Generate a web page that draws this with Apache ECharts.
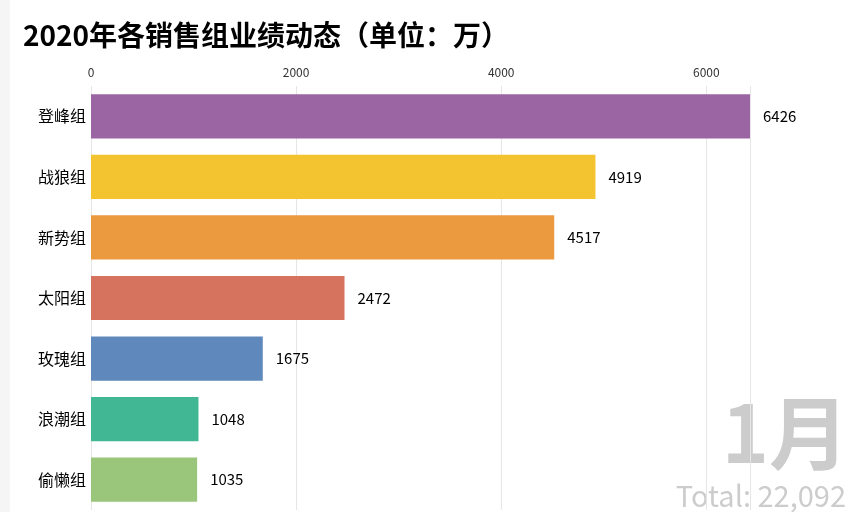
<!DOCTYPE html>
<html><head><meta charset="utf-8">
<script src="https://cdn.jsdelivr.net/npm/echarts@6/dist/echarts.min.js"></script>
<style>html,body{margin:0;padding:0;background:#f5f5f5;}#c{position:absolute;left:10px;top:0;width:844px;height:512px;background:#fff;}</style>
</head><body><div id="c"></div>
<script>
const categories = ['登峰组','战狼组','新势组','太阳组','玫瑰组','浪潮组','偷懒组'];
const values = [6426, 4919, 4517, 2472, 1675, 1048, 1035];
const colors = ['#9b64a2','#f4c430','#eb9a3f','#d6735f','#5f88bd','#42b793','#99c67b'];
const monthLabel = '1月';
const total = values.reduce((a,b)=>a+b,0);
const chart = echarts.init(document.getElementById('c'));
chart.setOption({
  animation:false,
  title:{text:'2020年各销售组业绩动态（单位：万）',left:8,top:16,textStyle:{fontSize:28,fontWeight:'bold',color:'#000',fontFamily:'Noto Sans CJK SC'}},
  grid:{left:81,right:104,top:86,bottom:2},
  xAxis:{type:'value',position:'top',min:0,max:'dataMax',interval:2000,
    axisLine:{show:false},axisTick:{show:false},
    axisLabel:{fontSize:12,color:'#333',margin:8,showMaxLabel:false,formatter:v=>String(v),fontFamily:'Noto Sans CJK SC'},
    splitLine:{lineStyle:{color:'#e6e6e6'}}},
  yAxis:{type:'category',inverse:true,data:categories,
    axisLine:{show:false},axisTick:{show:false},
    axisLabel:{fontSize:16,color:'#000',margin:5,fontFamily:'Noto Sans CJK SC'}},
  series:[{type:'bar',barCategoryGap:'27%',
    data:values.map((v,i)=>({value:v,itemStyle:{color:colors[i]}})),
    label:{show:true,position:'right',distance:13,fontSize:15,color:'#000',fontFamily:'Noto Sans CJK SC'}}],
  graphic:[
    {type:'text',right:5,bottom:39,style:{text:monthLabel,font:'bold 80px "Noto Sans CJK SC"',fill:'rgba(100,100,100,0.33)'}},
    {type:'text',right:8,bottom:2,style:{text:'Total: '+total.toLocaleString('en-US'),font:'29px "Noto Sans CJK SC"',fill:'rgba(100,100,100,0.33)'}}
  ]
});
</script></body></html>
